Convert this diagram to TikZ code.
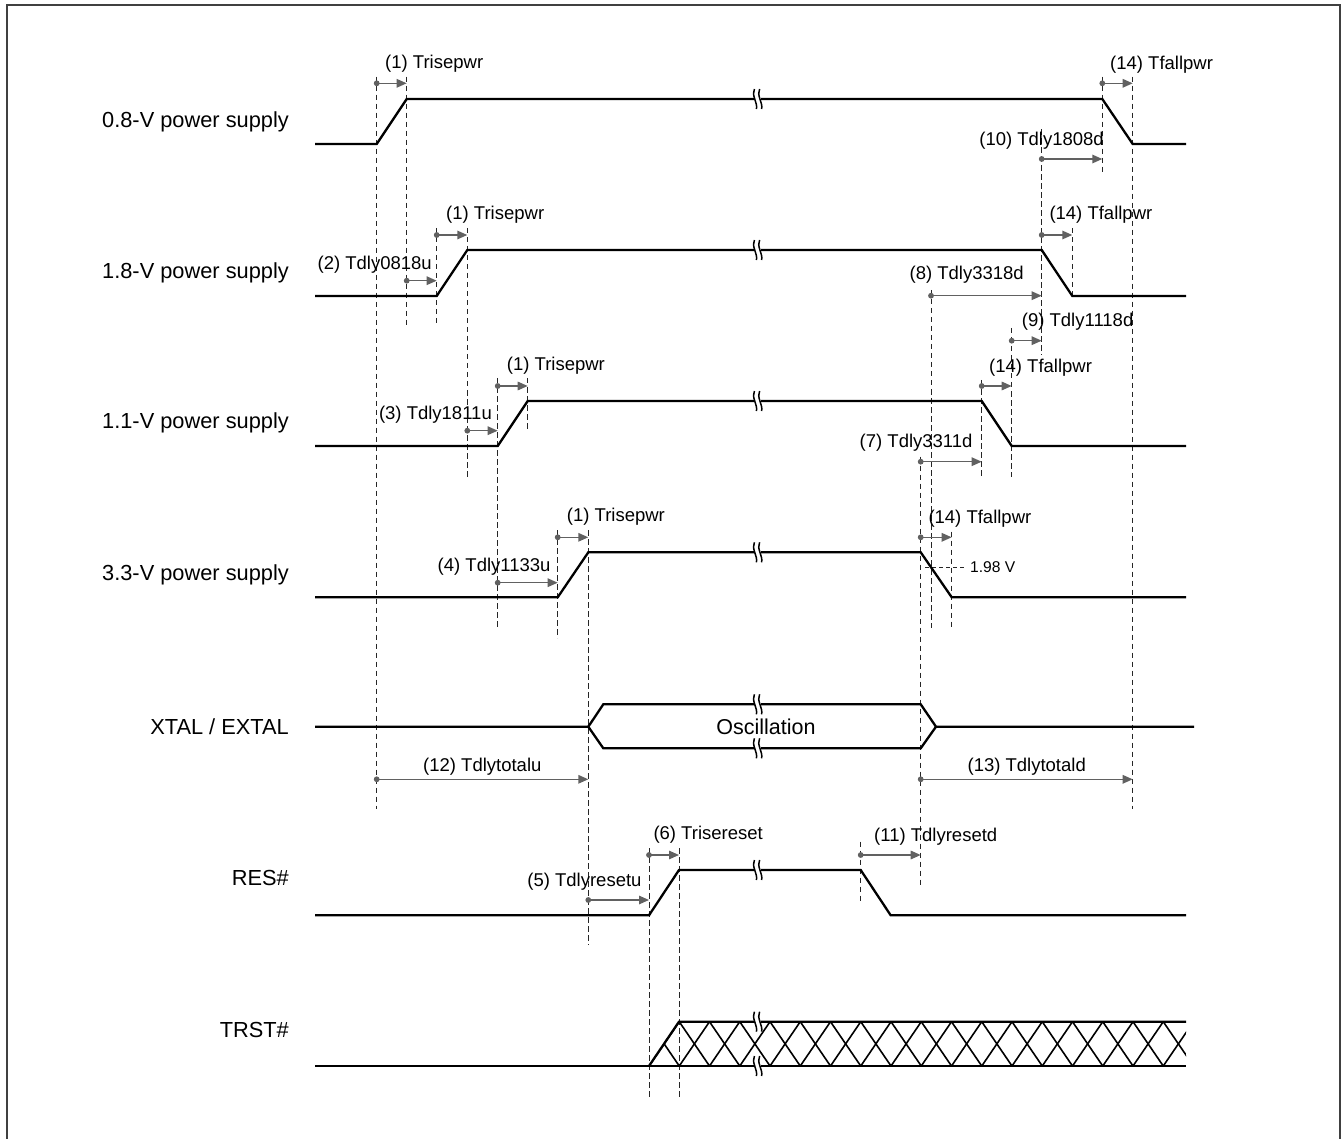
\documentclass[tikz,border=0pt]{standalone}
\usepackage{fontspec}
\setmainfont{Liberation Sans}
\usetikzlibrary{arrows.meta}
\newcommand\dimar[4]{%
  \coordinate (#4a) at (#1,#3); \coordinate (#4b) at (#2,#3);
  \draw[dimline] (#4a) -- (#4b);
  \fill[dotc] (#4a) circle (2.9);}
\newcommand\guideln[3]{\draw[dsh] (#1,#2) -- (#1,#3);}
\newcommand\mybrk[2]{%
  \fill[white] (#1-3.2,#2-2.5) rectangle (#1+3.2,#2+2.5);
  \draw[line width=1.5pt] (#1-3.6,#2-10) .. controls (#1-7,#2-4) and (#1,#2+4) .. (#1-1.6,#2+10);
  \draw[line width=1.5pt] (#1+1.6,#2-10) .. controls (#1-1.8,#2-4) and (#1+5.2,#2+4) .. (#1+3.6,#2+10);}
\begin{document}
\begin{tikzpicture}[x=1pt,y=-1pt,
  sig/.style={line width=2.3pt,line join=miter},
  dsh/.style={line width=1pt,dash pattern=on 5.5pt off 3.5pt,black!85},
  dimline/.style={line width=1.5pt,draw=black!62,-{Triangle[length=10pt,width=8.5pt]}},
  dotc/.style={fill=black!62},
  lab/.style={inner sep=0pt,font=\fontsize{18.5}{20}\selectfont},
  slab/.style={inner sep=0pt,anchor=east,font=\fontsize{21.8}{24}\selectfont},
  hatch/.style={line width=1.6pt}]
\useasboundingbox (0,0) rectangle (1341,1139);
\draw[line width=2pt,black!75] (6.5,5) rectangle (1339.5,1160);

% signal names
\node[slab] (n08) at (289,122) {0.8-V power supply};
\node[slab] (n18) at (289,273) {1.8-V power supply};
\node[slab] (n11) at (289,423) {1.1-V power supply};
\node[slab] (n33) at (289,575) {3.3-V power supply};
\node[slab] (nx) at (289,726.7) {XTAL / EXTAL};
\node[slab] (nr) at (289,878) {RES\#};
\node[slab] (nt) at (289,1030) {TRST\#};

% dashed guides
\guideln{376.7}{76.7}{809.3}
\guideln{406.7}{76.7}{325}
\guideln{436.7}{228}{325}
\guideln{467.3}{228}{476.7}
\guideln{497.7}{378}{628}
\guideln{527.7}{378}{431.7}
\guideln{557.7}{530}{638}
\guideln{588.3}{530}{945}
\guideln{649}{848}{1097}
\guideln{679}{848}{1097}
\guideln{860.7}{841.7}{901.7}
\guideln{920.7}{456.7}{885}
\guideln{931}{290}{628}
\guideln{951.7}{531.7}{628}
\guideln{981.7}{380}{476.7}
\guideln{1011.7}{328}{476.7}
\guideln{1041.7}{129.3}{355}
\guideln{1072.3}{228}{297}
\guideln{1102.3}{76.7}{175}
\guideln{1132.7}{76.7}{809.3}
\draw[line width=0.9pt,dash pattern=on 4pt off 3pt,black!85] (925,567.3) -- (966.7,567.3);

% signals
\draw[sig] (315,144) -- (376.7,144) -- (406.7,99) -- (1102.3,99) -- (1132.7,144) -- (1186,144);
\draw[sig] (315,296) -- (436.7,296) -- (467.3,250) -- (1041.7,250) -- (1072.3,296) -- (1186,296);
\draw[sig] (315,446) -- (497.7,446) -- (527.7,401) -- (981.7,401) -- (1011.7,446) -- (1186,446);
\draw[sig] (315,597.3) -- (557.7,597.3) -- (588.3,552.3) -- (920.7,552.3) -- (951.7,597.3) -- (1186,597.3);
\draw[sig] (315,726.7) -- (588.3,726.7) -- (603.3,704.3) -- (920.7,704.3) -- (936,726.7) -- (1194,726.7);
\draw[sig] (588.3,726.7) -- (603.3,748.3) -- (920.7,748.3) -- (936,726.7);
\draw[sig] (315,915.3) -- (649,915.3) -- (679,870) -- (860.7,870) -- (890.7,915.3) -- (1186,915.3);
\begin{scope}
  \clip (649,1066) -- (679,1021.7) -- (1186,1021.7) -- (1186,1066) -- cycle;
  \foreach \k in {-1,...,18} {
    \draw[hatch] ({649+30.25*\k},1066) -- ({649+30.25*(\k+1)},1021.7);
    \draw[hatch] ({649+30.25*\k},1021.7) -- ({649+30.25*(\k+1)},1066);
  }
\end{scope}
\draw[sig] (315,1066) -- (1186,1066);
\draw[sig] (649,1066) -- (679,1021.7) -- (1186,1021.7);

% breaks
\foreach \yy in {99,250,401,552.3,704.3,748.3,870,1021.7,1066} {\mybrk{758}{\yy}}

\node[inner sep=0pt,font=\fontsize{21.5}{24}\selectfont] (osc) at (766,726.7) {Oscillation};

% dimension arrows
\dimar{376.7}{406.7}{83.3}{r08}
\dimar{1102.3}{1132.7}{83.3}{f08}
\dimar{1041.7}{1102.3}{159}{d1808}
\dimar{436.7}{467.3}{235}{r18}
\dimar{406.7}{436.7}{280.7}{d0818}
\dimar{1041.7}{1072.3}{235}{f18}
\dimar{931}{1041.7}{295.7}{d3318}
\dimar{1011.7}{1041.7}{340.7}{d1118}
\dimar{497.7}{527.7}{386}{r11}
\dimar{467.3}{497.7}{430.7}{d1811}
\dimar{981.7}{1011.7}{386}{f11}
\dimar{920.7}{981.7}{461.7}{d3311}
\dimar{557.7}{588.3}{537.3}{r33}
\dimar{497.7}{557.7}{582.7}{d1133}
\dimar{920.7}{951.7}{537.3}{f33}
\dimar{376.7}{588.3}{779.3}{dtu}
\dimar{920.7}{1132.7}{779.3}{dtd}
\dimar{588.3}{649}{900}{dru}
\dimar{649}{679}{855}{rr}
\dimar{860.7}{920.7}{855}{drd}

% labels
\node[lab,anchor=west] (l1) at (385,64) {(1) Trisepwr};
\node[lab,anchor=west] (l2) at (1110,65) {(14) Tfallpwr};
\node[lab,anchor=east] (l3) at (1104,141) {(10) Tdly1808d};
\node[lab,anchor=west] (l4) at (446,215) {(1) Trisepwr};
\node[lab,anchor=east] (l5) at (432,265) {(2) Tdly0818u};
\node[lab,anchor=west] (l6) at (1049.3,215) {(14) Tfallpwr};
\node[lab,anchor=east] (l7) at (1024,275) {(8) Tdly3318d};
\node[lab,anchor=west] (l8) at (1021.7,321.7) {(9) Tdly1118d};
\node[lab,anchor=west] (l9) at (506.7,365.7) {(1) Trisepwr};
\node[lab,anchor=east] (l10) at (492,415) {(3) Tdly1811u};
\node[lab,anchor=west] (l11) at (989,367.7) {(14) Tfallpwr};
\node[lab,anchor=east] (l12) at (972.7,442.7) {(7) Tdly3311d};
\node[lab,anchor=west] (l13) at (566.7,516.7) {(1) Trisepwr};
\node[lab,anchor=east] (l14) at (550.7,566.7) {(4) Tdly1133u};
\node[lab,anchor=west] (l15) at (928.3,519) {(14) Tfallpwr};
\node[inner sep=0pt,anchor=west,font=\fontsize{15.6}{18}\selectfont] (l16) at (970,567.3) {1.98 V};
\node[lab] (l17) at (482.3,766.7) {(12) Tdlytotalu};
\node[lab] (l18) at (1026.7,766.7) {(13) Tdlytotald};
\node[lab,anchor=west] (l19) at (653.3,834.3) {(6) Trisereset};
\node[lab,anchor=east] (l20) at (641.7,881.7) {(5) Tdlyresetu};
\node[lab,anchor=west] (l21) at (874,836.7) {(11) Tdlyresetd};
\end{tikzpicture}
\end{document}
